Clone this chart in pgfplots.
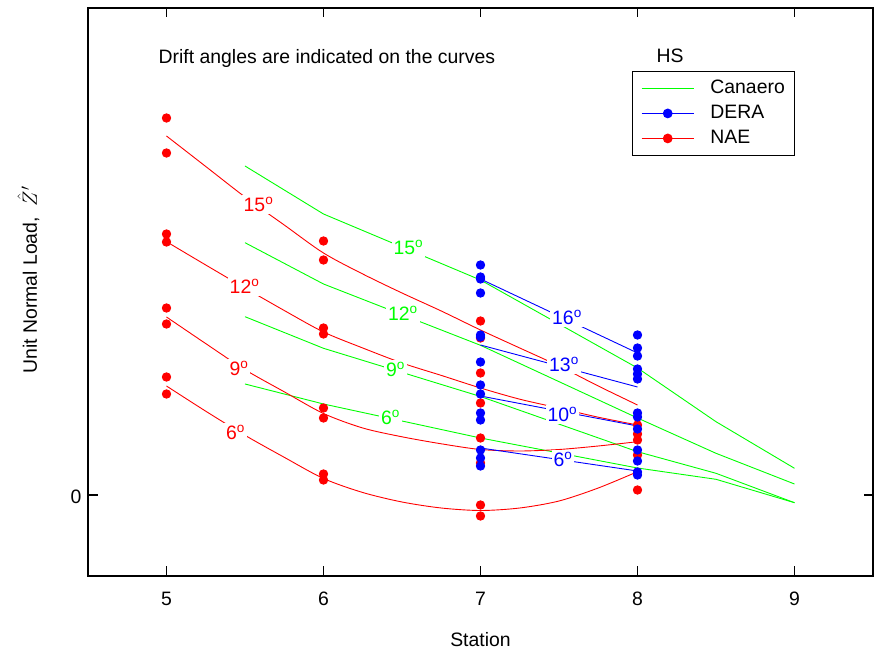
\documentclass[border=0pt]{standalone}
\usepackage{fontspec}
\setmainfont{Liberation Sans}
\usepackage{pgfplots}
\pgfplotsset{compat=1.18}
\newcommand{\fs}{\fontsize{19.4bp}{23bp}\selectfont}
\begin{document}
\fs
\begin{tikzpicture}
\begin{axis}[
  scale only axis, width=785bp, height=568bp,
  at={(0,0)}, anchor=south west,
  xmin=4.5, xmax=9.5, ymin=-0.81, ymax=4.87,
  xtick={5,6,7,8,9}, ytick={0},
  tick align=inside, major tick length=9.5bp,
  axis line style={line width=2bp},
  every tick/.style={black, line width=1.4bp},
  tick label style={font=\fs},
  /pgf/number format/assume math mode=true,
  xticklabel style={anchor=base, yshift=-29bp},
  yticklabel style={yshift=-2bp},
  xlabel={Station},
  every axis x label/.style={at={(rel axis cs:0.5,0)}, anchor=base, yshift=-70bp, font=\fs},
  legend cell align=left,
  legend image code/.code={\draw[mark repeat=2,mark phase=2,#1] plot coordinates {(0bp,0bp) (26bp,0bp) (52bp,0bp)};},
  legend style={at={(rel axis cs:0.6926,0.889)}, anchor=north west, draw=black, line width=0.8bp,
    inner xsep=9bp, inner ysep=6.5bp, row sep=4bp, /tikz/column sep=15bp, font=\fs,
    nodes={inner sep=1bp, text height=15bp, text depth=4bp}},
  every axis plot/.append style={line width=0.9bp},
]
\addlegendimage{green, line width=1.3bp, no marks}
\addlegendentry{Canaero}
\addlegendimage{blue, line width=1.3bp, mark=*, mark size=4.2bp}
\addlegendentry{DERA}
\addlegendimage{red, line width=1.3bp, mark=*, mark size=4.2bp}
\addlegendentry{NAE}

% Canaero (green)
\addplot[green, no marks, forget plot] coordinates {(5.5,3.29) (6,2.81) (7,2.15) (8,1.27) (8.5,0.733) (9,0.267)};
\addplot[green, no marks, forget plot] coordinates {(5.5,2.523) (6,2.11) (7,1.497) (8,0.77) (8.5,0.417) (9,0.11)};
\addplot[green, no marks, forget plot] coordinates {(5.5,1.783) (6,1.467) (7,0.985) (8,0.433) (8.5,0.217) (9,-0.077)};
\addplot[green, no marks, forget plot] coordinates {(5.5,1.11) (6,0.91) (7,0.57) (8,0.27) (8.5,0.157) (9,-0.077)};

% NAE curves (red)
\addplot[red, no marks, smooth, forget plot] coordinates {(5,3.59) (5.25,3.285) (5.5,2.98) (5.75,2.70) (6,2.42) (6.25,2.21) (6.5,2.02) (6.75,1.84) (7,1.65) (7.25,1.47) (7.5,1.29) (7.75,1.09) (8,0.90)};
\addplot[red, no marks, smooth, forget plot] coordinates {(5,2.533) (5.25,2.30) (5.5,2.07) (5.75,1.845) (6,1.63) (6.25,1.47) (6.5,1.32) (6.75,1.196) (7,1.07) (7.25,0.958) (7.5,0.869) (7.75,0.778) (8,0.70)};
\addplot[red, no marks, smooth, forget plot] coordinates {(5,1.78) (5.25,1.514) (5.5,1.253) (5.75,1.032) (6,0.815) (6.25,0.67) (6.5,0.582) (6.75,0.512) (7,0.455) (7.25,0.44) (7.5,0.455) (7.75,0.49) (8,0.533)};
\addplot[red, no marks, smooth, forget plot] coordinates {(5,1.09) (5.25,0.838) (5.5,0.597) (5.75,0.377) (6,0.165) (6.25,0.025) (6.5,-0.07) (6.75,-0.13) (7,-0.155) (7.25,-0.13) (7.5,-0.06) (7.75,0.07) (8,0.233)};

% DERA lines (blue)
\addplot[blue, no marks, forget plot] coordinates {(7,2.16) (8,1.42)};
\addplot[blue, no marks, forget plot] coordinates {(7,1.50) (8,1.08)};
\addplot[blue, no marks, forget plot] coordinates {(7,0.99) (8,0.69)};
\addplot[blue, no marks, forget plot] coordinates {(7,0.47) (8,0.24)};

% NAE points
\addplot[red, only marks, mark=*, mark size=4.2bp, forget plot] coordinates {
(5,3.77) (5,3.42) (5,2.61) (5,2.53) (5,1.87) (5,1.71) (5,1.18) (5,1.01)
(6,2.54) (6,2.35) (6,1.67) (6,1.61) (6,0.87) (6,0.77) (6,0.21) (6,0.15)
(7,1.74) (7,1.57) (7,1.22) (7,0.92) (7,0.57) (7,0.32) (7,-0.10) (7,-0.21)
(8,0.70) (8,0.61) (8,0.55) (8,0.40) (8,0.05)};
% DERA points
\addplot[blue, only marks, mark=*, mark size=4.2bp, forget plot] coordinates {
(7,2.30) (7,2.18) (7,2.16) (7,2.02) (7,1.60) (7,1.58) (7,1.33) (7,1.10) (7,1.01) (7,0.82) (7,0.75) (7,0.45) (7,0.37) (7,0.29)
(8,1.60) (8,1.47) (8,1.39) (8,1.26) (8,1.21) (8,1.16) (8,0.82) (8,0.78) (8,0.66) (8,0.45) (8,0.34) (8,0.23) (8,0.20)};

% curve labels
\tikzset{lab/.style={anchor=base, fill=white, inner sep=2bp, font=\fs}}
\node[lab, text=red] at (axis cs:5.586,2.83) {15\textsuperscript{o}};
\node[lab, text=red] at (axis cs:5.497,2.01) {12\textsuperscript{o}};
\node[lab, text=red] at (axis cs:5.462,1.19) {9\textsuperscript{o}};
\node[lab, text=red] at (axis cs:5.44,0.55) {6\textsuperscript{o}};
\node[lab, text=green] at (axis cs:6.541,2.40) {15\textsuperscript{o}};
\node[lab, text=green] at (axis cs:6.506,1.74) {12\textsuperscript{o}};
\node[lab, text=green] at (axis cs:6.459,1.18) {9\textsuperscript{o}};
\node[lab, text=green] at (axis cs:6.427,0.70) {6\textsuperscript{o}};
\node[lab, text=blue] at (axis cs:7.551,1.70) {16\textsuperscript{o}};
\node[lab, text=blue] at (axis cs:7.532,1.23) {13\textsuperscript{o}};
\node[lab, text=blue] at (axis cs:7.522,0.73) {10\textsuperscript{o}};
\node[lab, text=blue] at (axis cs:7.525,0.283) {6\textsuperscript{o}};

\node[anchor=base west, inner sep=0pt, font=\fs] at (rel axis cs:0.0898,0.9026) {Drift angles are indicated on the curves};
\node[anchor=base, inner sep=0pt, font=\fs] at (rel axis cs:0.7414,0.9044) {HS};
\end{axis}
\node[rotate=90, anchor=base, inner sep=0pt, font=\fs] at (-51bp,296bp) {Unit Normal Load,\ \ $\hat{Z}'$};
\pgfresetboundingbox
\path[use as bounding box] (-88bp,-77bp) rectangle (790bp,576bp);
\end{tikzpicture}
\end{document}
